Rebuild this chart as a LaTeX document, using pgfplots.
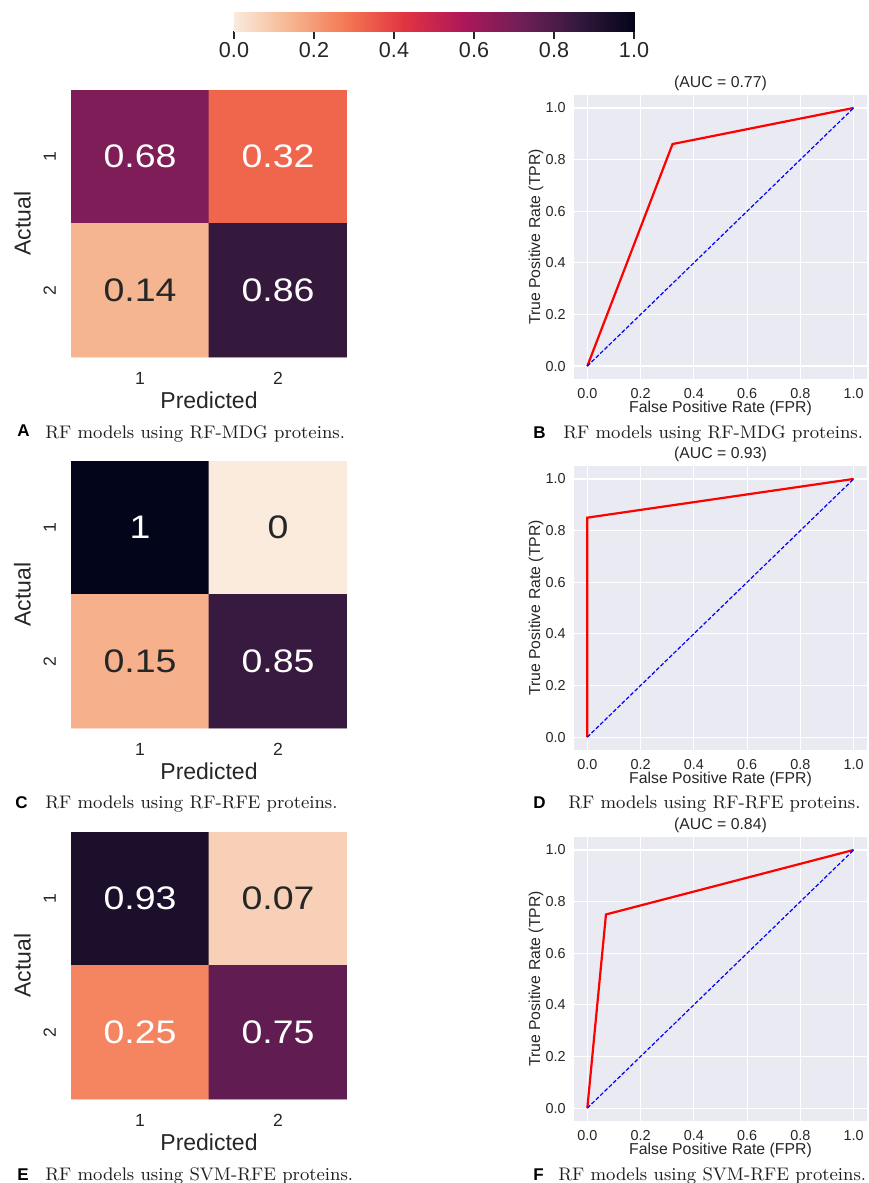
\documentclass[border=0pt]{standalone}
\usepackage{fontspec}
\newfontfamily\arial{Liberation Sans}
\newfontfamily\arialwide[FakeStretch=1.15]{Liberation Sans}
\usepackage{pgfplots}
\pgfplotsset{compat=1.18}

\definecolor{fg}{HTML}{262626}
\definecolor{rocbg}{HTML}{EAEAF2}
\definecolor{captxt}{HTML}{1E1E1E}

\pgfplotsset{
  colormap={rocketr}{rgb255=(250,235,221) rgb255=(246,180,143) rgb255=(243,118,81)
    rgb255=(225,51,66) rgb255=(173,23,89) rgb255=(112,31,87) rgb255=(53,25,62) rgb255=(3,5,26)},
  hm/.style={
    scale only axis, width=138pt, height=133.5pt,
    xmin=-0.5, xmax=1.5, ymin=-0.5, ymax=1.5, y dir=reverse,
    enlargelimits=false,
    colormap name=rocketr, point meta min=0, point meta max=1,
    xtick={0,1}, ytick={0,1}, xticklabels={1,2}, yticklabels={1,2},
    axis line style={draw=none}, major tick length=0pt,
    tick label style={font=\arial\fontsize{8.8}{10}\selectfont, text=fg},
    yticklabel style={rotate=90},
    xticklabel shift=4pt, yticklabel shift=4pt,
    xlabel=Predicted, ylabel=Actual,
    label style={font=\arial\fontsize{11.5}{13}\selectfont, text=fg},
    xlabel style={at={(axis description cs:0.5,-0.161)}, anchor=center},
    ylabel style={at={(axis description cs:-0.1757,0.5)}, anchor=center},
  },
  cellw/.style={draw=none, mark=none, nodes near coords, point meta=explicit symbolic,
    every node near coord/.append style={anchor=center, text=white,
      font=\arialwide\fontsize{16.3}{18}\selectfont}},
  celld/.style={cellw, every node near coord/.append style={text=fg}},
  roc/.style={
    scale only axis, width=146.5pt, height=142pt,
    xmin=-0.05, xmax=1.05, ymin=-0.05, ymax=1.05,
    xtick={0,0.2,0.4,0.6,0.8,1}, ytick={0,0.2,0.4,0.6,0.8,1},
    scaled ticks=false,
    /pgf/number format/.cd, fixed, fixed zerofill, precision=1, assume math mode=true, /pgfplots/.cd,
    axis background/.style={fill=rocbg},
    axis line style={draw=none}, major tick length=0pt,
    grid=major, major grid style={white, line width=0.6pt},
    tick label style={font=\arial\fontsize{7.2}{8}\selectfont, text=fg},
    xticklabel shift=1.3pt, yticklabel shift=0.6pt,
    xlabel={False Positive Rate (FPR)}, ylabel={True Positive Rate (TPR)},
    label style={font=\arial\fontsize{7.9}{9}\selectfont, text=fg},
    xlabel style={at={(axis description cs:0.5,-0.104)}, anchor=center},
    ylabel style={at={(axis description cs:-0.1297,0.5)}, anchor=center},
    title style={font=\arial\fontsize{7.9}{9}\selectfont, text=fg,
      at={(axis description cs:0.5,1)}, anchor=south, inner sep=0.5pt, yshift=-4.7pt},
  },
  tpr/.style={red, line width=1.1pt},
  chance/.style={blue, line width=0.6pt, dash pattern=on 2pt off 1pt},
}

\newcommand{\panelcaption}[4]{%
  \node[anchor=base west, inner sep=0pt, font=\arial\bfseries\fontsize{8.5}{10}\selectfont] at (#1) {#2};
  \node[anchor=base west, inner sep=0pt, text=captxt, font=\fontsize{9.1}{11}\selectfont] at (#3) {#4};}

\begin{document}
\begin{tikzpicture}
\useasboundingbox (0,0) rectangle (434pt,-591.5pt);

% colour scale
\begin{axis}[scale only axis, width=200pt, height=9.5pt, at={(117pt,-6pt)}, anchor=north west,
  xmin=0, xmax=1, ymin=0, ymax=1, enlargelimits=false,
  ytick=\empty, xtick={0,0.2,0.4,0.6,0.8,1}, xtick pos=left, tick align=outside,
  major tick length=3.75pt, major tick style={fg, line width=0.65pt},
  axis line style={draw=none}, colormap name=rocketr, point meta min=0, point meta max=1,
  tick label style={font=\arial\fontsize{10.8}{12}\selectfont, text=fg},
  xticklabel shift=-1.6pt,
  /pgf/number format/.cd, fixed, fixed zerofill, precision=1, assume math mode=true]
\addplot[surf, shader=interp, mesh/rows=2, point meta=x] table {
x y
0 0
0.142857 0
0.285714 0
0.428571 0
0.571429 0
0.714286 0
0.857143 0
1 0
0 1
0.142857 1
0.285714 1
0.428571 1
0.571429 1
0.714286 1
0.857143 1
1 1
};
\end{axis}

% A: confusion matrix, RF-MDG
\begin{axis}[hm, at={(35.5pt,-45pt)}, anchor=north west]
\addplot[matrix plot*, mesh/cols=2, point meta=explicit] table[meta=v] {
x y v
0 0 0.68
1 0 0.32
0 1 0.14
1 1 0.86
};
\addplot[cellw] table[meta=t] {
x y t
0 0 0.68
1 0 0.32
1 1 0.86
};
\addplot[celld] table[meta=t] {
x y t
0 1 0.14
};
\end{axis}

% B: ROC, RF-MDG
\begin{axis}[roc, at={(287pt,-47.5pt)}, anchor=north west, title={(AUC = 0.77)}]
\addplot[tpr] coordinates {(0,0) (0.32,0.86) (1,1)};
\addplot[chance] coordinates {(0,0) (1,1)};
\end{axis}

% C: confusion matrix, RF-RFE
\begin{axis}[hm, at={(35.5pt,-230.5pt)}, anchor=north west]
\addplot[matrix plot*, mesh/cols=2, point meta=explicit] table[meta=v] {
x y v
0 0 1
1 0 0
0 1 0.15
1 1 0.85
};
\addplot[cellw] table[meta=t] {
x y t
0 0 1
1 1 0.85
};
\addplot[celld] table[meta=t] {
x y t
1 0 0
0 1 0.15
};
\end{axis}

% D: ROC, RF-RFE
\begin{axis}[roc, at={(287pt,-233pt)}, anchor=north west, title={(AUC = 0.93)}]
\addplot[tpr] coordinates {(0,0) (0,0.85) (1,1)};
\addplot[chance] coordinates {(0,0) (1,1)};
\end{axis}

% E: confusion matrix, SVM-RFE
\begin{axis}[hm, at={(35.5pt,-416pt)}, anchor=north west]
\addplot[matrix plot*, mesh/cols=2, point meta=explicit] table[meta=v] {
x y v
0 0 0.93
1 0 0.07
0 1 0.25
1 1 0.75
};
\addplot[cellw] table[meta=t] {
x y t
0 0 0.93
0 1 0.25
1 1 0.75
};
\addplot[celld] table[meta=t] {
x y t
1 0 0.07
};
\end{axis}

% F: ROC, SVM-RFE
\begin{axis}[roc, at={(287pt,-418.5pt)}, anchor=north west, title={(AUC = 0.84)}]
\addplot[tpr] coordinates {(0,0) (0.07,0.75) (1,1)};
\addplot[chance] coordinates {(0,0) (1,1)};
\end{axis}

% panel captions
\panelcaption{8.5pt,-218pt}{A}{22.5pt,-219pt}{RF models using RF-MDG proteins.}
\panelcaption{266.5pt,-219pt}{B}{281.5pt,-219pt}{RF models using RF-MDG proteins.}
\panelcaption{7.5pt,-404pt}{C}{22.5pt,-404pt}{RF models using RF-RFE proteins.}
\panelcaption{266.5pt,-404pt}{D}{284pt,-404pt}{RF models using RF-RFE proteins.}
\panelcaption{8.5pt,-590pt}{E}{22.5pt,-590pt}{RF models using SVM-RFE proteins.}
\panelcaption{266.5pt,-590pt}{F}{279pt,-590pt}{RF models using SVM-RFE proteins.}
\end{tikzpicture}
\end{document}
